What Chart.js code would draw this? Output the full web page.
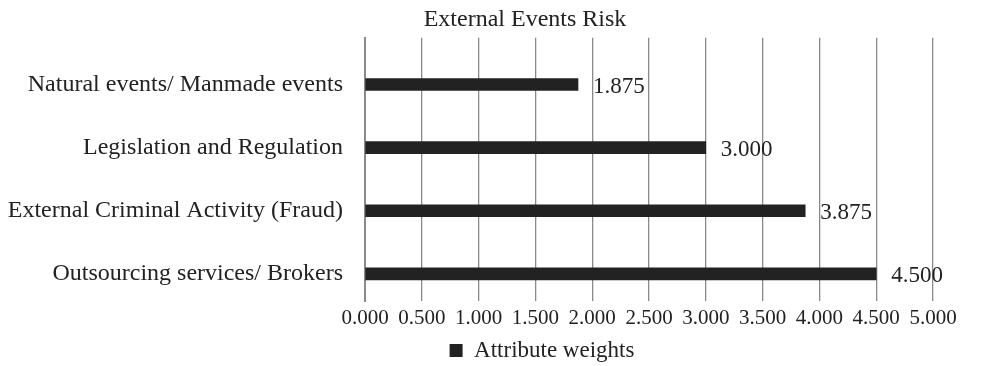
<!DOCTYPE html>
<html lang="en">
<head>
    <meta charset="UTF-8">
    <title>External Events Risk</title>
    <script src="https://cdn.jsdelivr.net/npm/chart.js"></script>
    <style>
        body { margin: 0; background: #fff; }
        .chart-box { position: relative; width: 984px; height: 366px; }
    </style>
</head>
<body>
    <div class="chart-box">
        <canvas id="riskChart"></canvas>
    </div>

    <script>
        // categories, top to bottom
        const categories = [
            'Natural events/ Manmade events',
            'Legislation and Regulation',
            'External Criminal Activity (Fraud)',
            'Outsourcing services/ Brokers'
        ];
        const attributeWeights = [1.875, 3.000, 3.875, 4.500];
        const xTicks = [0, 0.5, 1, 1.5, 2, 2.5, 3, 3.5, 4, 4.5, 5];

        const FONT = "'Liberation Serif', 'Times New Roman', serif";
        const INK = '#222222';

        // value labels next to each bar end
        const barLabels = {
            id: 'barLabels',
            afterDatasetsDraw(chart) {
                const ctx = chart.ctx;
                const meta = chart.getDatasetMeta(0);
                ctx.save();
                ctx.font = '23px ' + FONT;
                ctx.fillStyle = INK;
                ctx.textBaseline = 'middle';
                ctx.textAlign = 'left';
                meta.data.forEach((bar, i) => {
                    ctx.fillText(attributeWeights[i].toFixed(3), bar.x + 15, bar.y + 2);
                });
                ctx.restore();
            }
        };

        // title and legend sit a bit right of the canvas centre in the original
        const nudgeBoxes = {
            id: 'nudgeBoxes',
            afterLayout(chart) {
                const t = chart.titleBlock;
                t.left += 33; t.right += 33;
                const lg = chart.legend;
                lg.left += 50; lg.right += 50;
                lg.top += 6; lg.bottom += 6;
            }
        };

        new Chart(document.getElementById('riskChart'), {
            type: 'bar',
            data: {
                labels: categories,
                datasets: [{
                    label: 'Attribute weights',
                    data: attributeWeights.map((v, i) => ({ x: v, y: i })),
                    backgroundColor: INK,
                    borderWidth: 0,
                    barThickness: 12
                }]
            },
            options: {
                indexAxis: 'y',
                responsive: true,
                maintainAspectRatio: false,
                animation: false,
                layout: { padding: 0 },
                scales: {
                    x: {
                        type: 'linear',
                        min: 0,
                        max: 5,
                        afterBuildTicks: axis => { axis.ticks = xTicks.map(v => ({ value: v })); },
                        afterFit: s => { s.height = 30; s.paddingRight = 51; },
                        grid: { color: '#8a8a8a', lineWidth: 1.3, drawTicks: false },
                        border: { display: false },
                        ticks: {
                            padding: 5,
                            color: INK,
                            font: { family: FONT, size: 21 },
                            callback: v => Number(v).toFixed(3),
                            maxRotation: 0,
                            autoSkip: false
                        }
                    },
                    y: {
                        type: 'linear',
                        reverse: true,
                        bounds: 'data',
                        offset: false,
                        min: -0.74,
                        max: 3.43,
                        afterBuildTicks: axis => { axis.ticks = categories.map((c, i) => ({ value: i })); },
                        afterFit: s => { s.width = 365; },
                        grid: { display: false },
                        border: { display: true, color: '#8a8a8a', width: 2 },
                        ticks: {
                            padding: 14,
                            color: INK,
                            font: { family: FONT, size: 24 },
                            callback: v => categories[v]
                        }
                    }
                },
                plugins: {
                    title: {
                        display: true,
                        text: 'External Events Risk',
                        color: INK,
                        font: { family: FONT, size: 24, weight: 'normal' },
                        padding: { top: 5, bottom: 4 }
                    },
                    legend: {
                        position: 'bottom',
                        labels: {
                            color: INK,
                            font: { family: FONT, size: 23 },
                            boxWidth: 13,
                            boxHeight: 13,
                            padding: 2
                        }
                    },
                    tooltip: { enabled: false }
                }
            },
            plugins: [barLabels, nudgeBoxes]
        });
    </script>
</body>
</html>
